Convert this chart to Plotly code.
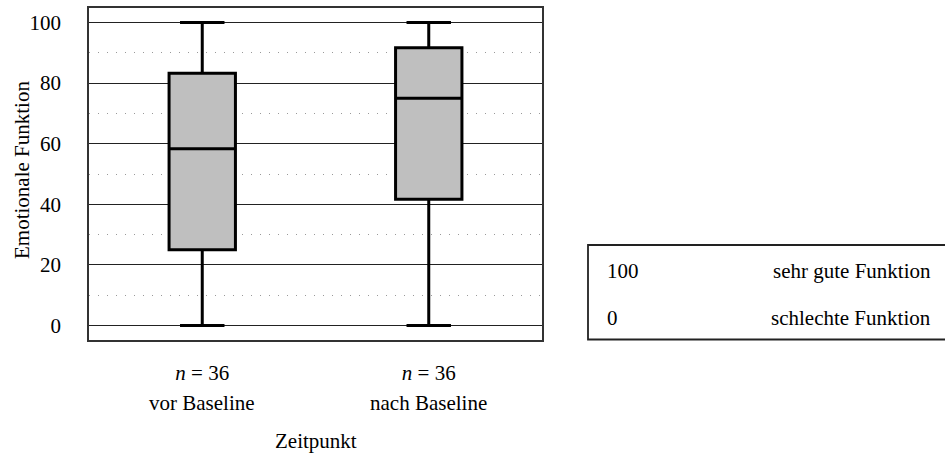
import plotly.graph_objects as go

categories = ["vor Baseline", "nach Baseline"]
n_values = [36, 36]
mins = [0, 0]
q1s = [25.0, 41.7]
medians = [58.3, 75.0]
q3s = [83.3, 91.7]
maxs = [100, 100]
ytick_vals = [0, 20, 40, 60, 80, 100]
x_title = "Zeitpunkt"
y_title = "Emotionale Funktion"
legend_values = ["100", "0"]
legend_labels = ["sehr gute Funktion", "schlechte Funktion"]

FONT = "Liberation Serif"
FS = 21

fig = go.Figure()
fig.add_trace(go.Box(
    x=categories,
    lowerfence=mins, q1=q1s, median=medians, q3=q3s, upperfence=maxs,
    fillcolor="#bfbfbf",
    line=dict(color="black", width=3),
    width=0.293,
    whiskerwidth=0.67,
    boxpoints=False,
    hoverinfo="skip",
    showlegend=False,
))

L, R, T, B = 89, 403, 8, 121
W, H = 945, 461
pw = W - L - R
ph = H - T - B

fig.update_layout(
    width=W, height=H,
    margin=dict(l=L, r=R, t=T, b=B, pad=0),
    plot_bgcolor="white", paper_bgcolor="white",
    font=dict(family=FONT, size=FS, color="black"),
    showlegend=False,
)

fig.update_xaxes(
    type="category",
    categoryorder="array", categoryarray=categories,
    range=[-0.5, 1.5],
    tickvals=categories,
    ticktext=[f"<i>n</i> = {n}" for n in n_values],
    ticks="", ticklabelstandoff=13,
    showgrid=False, zeroline=False,
    showline=True, linecolor="#333", linewidth=1.5, mirror=True,
    automargin=False,
)

fig.update_yaxes(
    range=[-4.8, 104.8],
    tickvals=ytick_vals,
    ticks="", ticklabelstandoff=22,
    showgrid=True, gridcolor="#222", gridwidth=1,
    zeroline=False,
    showline=True, linecolor="#333", linewidth=1.5, mirror=True,
    minor=dict(dtick=10, showgrid=True, gridcolor="#999", griddash="1px,8px", gridwidth=1),
    automargin=False,
)

def px_x(x):
    return (x - L) / pw

def px_y(y):
    return (H - B - y) / ph

# second line of x tick labels (group names)
for c in categories:
    fig.add_annotation(
        x=c, xref="x", y=px_y(403), yref="paper",
        text=c, showarrow=False, xanchor="center", yanchor="middle",
        font=dict(family=FONT, size=FS),
    )

# axis titles
fig.add_annotation(
    x=0.5, xref="paper", y=px_y(441), yref="paper",
    text=x_title, showarrow=False, xanchor="center", yanchor="middle",
    font=dict(family=FONT, size=FS),
)
fig.add_annotation(
    x=px_x(22), xref="paper", y=px_y(170), yref="paper",
    text=y_title, showarrow=False, xanchor="center", yanchor="middle",
    textangle=-90, font=dict(family=FONT, size=FS),
)

# explanation box on the right
fig.add_shape(
    type="rect", xref="paper", yref="paper",
    x0=px_x(588), x1=px_x(960), y0=px_y(339.5), y1=px_y(245),
    line=dict(color="#222", width=1.8), fillcolor="rgba(0,0,0,0)",
)
row_y = [271, 318]
for v, lab, yy in zip(legend_values, legend_labels, row_y):
    fig.add_annotation(
        x=px_x(605), xref="paper", y=px_y(yy), yref="paper",
        text=v, showarrow=False, xanchor="left", yanchor="middle",
        font=dict(family=FONT, size=FS),
    )
    fig.add_annotation(
        x=px_x(933), xref="paper", y=px_y(yy), yref="paper",
        text=lab, showarrow=False, xanchor="right", yanchor="middle",
        font=dict(family=FONT, size=FS),
    )

fig.write_html("out.html")
